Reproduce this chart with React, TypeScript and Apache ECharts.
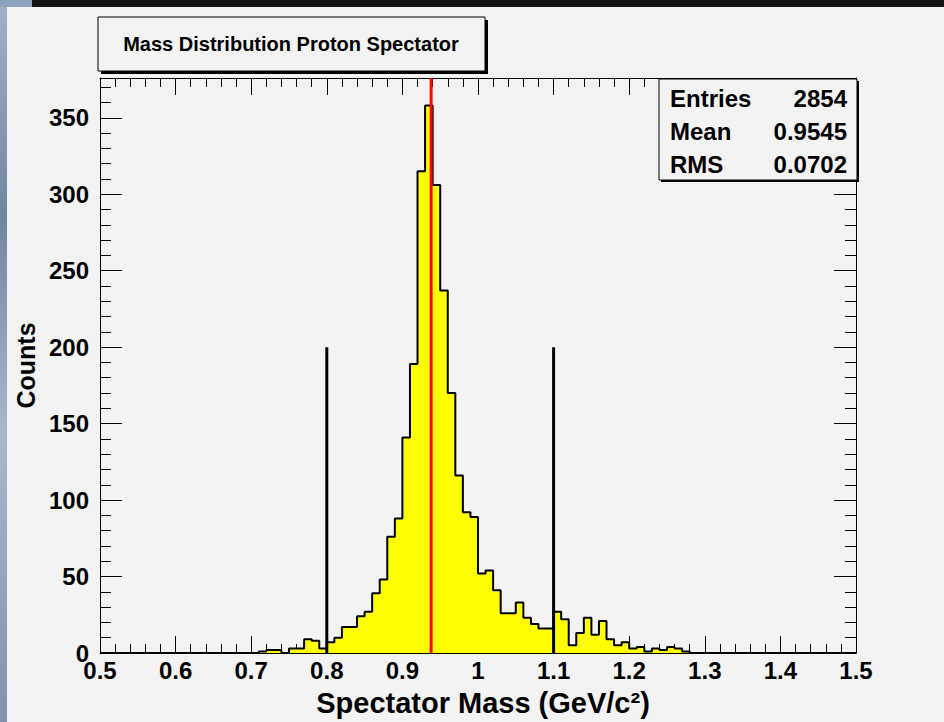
import React, { useEffect, useRef } from "react";
import * as echarts from "echarts";

// ---- data ----
const binLow = 0.5;
const binWidth = 0.01;
const nBins = 100;
const firstFilledBin = 21; // bin starting at 0.71
const counts = [
  1, 2, 2, 0, 3, 3, 9, 8, 3, 7, 10,
  17, 17, 24, 27, 39, 48, 76, 88, 141, 189,
  315, 358, 306, 237, 170, 116, 92, 89,
  52, 54, 41, 26, 26, 33, 23, 19, 16, 16,
  27, 22, 5, 13, 23, 12, 21, 9, 5, 7,
  3, 4, 1, 3, 2, 4, 3, 1,
];
const xMin = 0.5;
const xMax = 1.5;
const yMax = 376;
const statLabels = ["Entries", "Mean", "RMS"];
const statValues = ["2854", "0.9545", "0.0702"];
const cutLines = [0.8, 1.1];
const cutHeight = 200;
const protonMass = 0.938;
const titleText = "Mass Distribution Proton Spectator";
const xTitle = "Spectator Mass (GeV/c²)";
const yTitle = "Counts";

const FONT = '"Liberation Sans", Arial, Helvetica, sans-serif';
const BG = "#f3f3f3";

export default function App() {
  const ref = useRef<HTMLDivElement>(null);

  useEffect(() => {
    if (!ref.current) return;
    const chart = echarts.init(ref.current, undefined, { renderer: "svg" });

    const binValues: number[] = [];
    for (let i = 0; i < nBins; i++) {
      const j = i - firstFilledBin;
      binValues.push(j >= 0 && j < counts.length ? counts[j] : 0);
    }
    const histData: number[][] = binValues.map((c, i) => [
      +(binLow + i * binWidth).toFixed(4),
      c,
    ]);
    histData.push([xMax, binValues[nBins - 1]]);

    const tickStyle = { color: "#000", width: 1 };
    const baseX = {
      type: "value",
      min: xMin,
      max: xMax,
      interval: 0.1,
      splitLine: { show: false },
      minorSplitLine: { show: false },
      axisLine: { show: true, onZero: false, lineStyle: { color: "#000", width: 1 } },
      axisTick: { show: true, inside: true, length: 17, lineStyle: tickStyle },
      minorTick: { show: true, splitNumber: 5, length: 9, lineStyle: tickStyle },
    };
    const baseYMajor = {
      type: "value",
      min: 0,
      max: yMax,
      interval: 50,
      splitLine: { show: false },
      axisLine: { show: true, onZero: false, lineStyle: { color: "#000", width: 1 } },
      axisTick: { show: true, inside: true, length: 22, lineStyle: tickStyle },
    };
    const baseYMinor = {
      type: "value",
      min: 0,
      max: yMax,
      interval: 10,
      splitLine: { show: false },
      axisLine: { show: false },
      axisLabel: { show: false },
      axisTick: { show: true, inside: true, length: 11, lineStyle: tickStyle },
    };

    const statsX = 659, statsY = 79, statsW = 198, statsH = 101;
    const rowH = 33.3;

    const graphics: any[] = [
      {
        type: "rect", z: 100,
        shape: { x: 0, y: 0, width: 7, height: 722 },
        style: {
          fill: new echarts.graphic.LinearGradient(0, 0, 0, 1, [
            { offset: 0, color: "#9fb2c8" },
            { offset: 0.3, color: "#6f86a3" },
            { offset: 0.6, color: "#a8b8cc" },
            { offset: 1, color: "#7f93ad" },
          ]),
        },
      },
      {
        type: "rect", z: 100,
        shape: { x: 0, y: 0, width: 32, height: 7 },
        style: { fill: "#8ea3bd" },
      },
      {
        type: "rect", z: 100,
        shape: { x: 32, y: 0, width: 912, height: 7 },
        style: { fill: "#141414" },
      },
      // title box
      {
        type: "rect", z: 100,
        shape: { x: 101, y: 20, width: 387, height: 54 },
        style: { fill: "#000" },
      },
      {
        type: "rect", z: 101,
        shape: { x: 98, y: 17, width: 387, height: 54 },
        style: { fill: BG, stroke: "#000", lineWidth: 1 },
      },
      {
        type: "text", z: 102, x: 291, y: 44,
        style: {
          text: titleText, fill: "#000", fontSize: 20, fontWeight: "bold",
          fontFamily: FONT, align: "center", verticalAlign: "middle",
        },
      },
      // stats box
      {
        type: "rect", z: 100,
        shape: { x: statsX + 2, y: statsY + 2, width: statsW, height: statsH },
        style: { fill: "#000" },
      },
      {
        type: "rect", z: 101,
        shape: { x: statsX, y: statsY, width: statsW, height: statsH },
        style: { fill: BG, stroke: "#000", lineWidth: 1 },
      },
    ];
    statLabels.forEach((lab, i) => {
      const cy = statsY + 19 + i * rowH;
      graphics.push({
        type: "text", z: 102, x: statsX + 11, y: cy,
        style: {
          text: lab, fill: "#000", fontSize: 24, fontWeight: "bold",
          fontFamily: FONT, align: "left", verticalAlign: "middle",
        },
      });
      graphics.push({
        type: "text", z: 102, x: statsX + 188, y: cy,
        style: {
          text: statValues[i], fill: "#000", fontSize: 24, fontWeight: "bold",
          fontFamily: FONT, align: "right", verticalAlign: "middle",
        },
      });
    });

    const option: any = {
      animation: false,
      backgroundColor: BG,
      textStyle: { fontFamily: FONT },
      grid: { left: 100, top: 78, width: 756, height: 575, containLabel: false },
      xAxis: [
        {
          ...baseX,
          position: "bottom",
          axisLabel: {
            show: true, color: "#000", fontSize: 24, fontWeight: "bold",
            fontFamily: FONT, margin: 5,
            formatter: (v: number) => String(Math.round(v * 10) / 10),
          },
          name: xTitle,
          nameLocation: "middle",
          nameGap: 35,
          nameTextStyle: {
            color: "#000", fontSize: 29, fontWeight: "bold", fontFamily: FONT,
            padding: [0, 0, 0, 10],
          },
        },
        { ...baseX, position: "top", axisLabel: { show: false } },
      ],
      yAxis: [
        {
          ...baseYMajor,
          position: "left",
          axisLabel: {
            show: true, color: "#000", fontSize: 24, fontWeight: "bold",
            fontFamily: FONT, margin: 11, showMaxLabel: false,
          },
          name: yTitle,
          nameLocation: "middle",
          nameGap: 56,
          nameTextStyle: { color: "#000", fontSize: 25, fontWeight: "bold", fontFamily: FONT },
        },
        { ...baseYMinor, position: "left" },
        { ...baseYMajor, position: "right", axisLabel: { show: false } },
        { ...baseYMinor, position: "right" },
      ],
      series: [
        {
          type: "line",
          step: "end",
          data: histData,
          symbol: "none",
          lineStyle: { color: "#000", width: 2 },
          areaStyle: { color: "#ffff00", opacity: 1 },
          z: 2,
        },
        ...cutLines.map((c) => ({
          type: "line",
          data: [[c, 0], [c, cutHeight]],
          symbol: "none",
          lineStyle: { color: "#000", width: 3 },
          z: 3,
        })),
        {
          type: "line",
          data: [[protonMass, 0], [protonMass, yMax]],
          symbol: "none",
          lineStyle: { color: "#ff0000", width: 3 },
          z: 4,
        },
      ],
      graphic: { elements: graphics },
    };

    chart.setOption(option);
    return () => chart.dispose();
  }, []);

  return (
    <div
      ref={ref}
      style={{ position: "fixed", left: 0, top: 0, width: 944, height: 722 }}
    />
  );
}
